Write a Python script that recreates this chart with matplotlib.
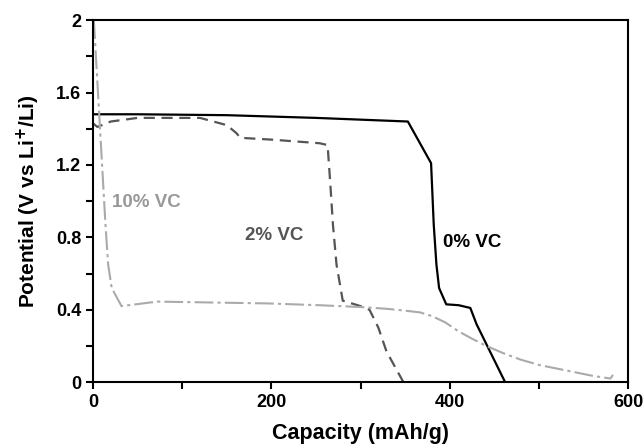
import matplotlib
matplotlib.use("Agg")
import matplotlib.pyplot as plt
from matplotlib.ticker import MultipleLocator

plt.rcParams["font.family"] = ["Liberation Sans", "DejaVu Sans"]
plt.rcParams["font.weight"] = "bold"

# 0% VC
cap_0 = [0, 50, 150, 250, 353, 379, 382, 385, 388, 396, 410, 423, 430, 445, 462]
pot_0 = [1.48, 1.48, 1.475, 1.46, 1.44, 1.21, 0.87, 0.65, 0.52, 0.43, 0.425, 0.41, 0.32, 0.17, 0.0]

# 2% VC
cap_2 = [0, 5, 20, 50, 120, 150, 161, 165, 200, 254, 263, 266, 269, 273, 280, 300, 310, 320, 329, 348]
pot_2 = [1.43, 1.41, 1.44, 1.46, 1.46, 1.42, 1.375, 1.35, 1.34, 1.32, 1.31, 1.1, 0.87, 0.65, 0.45, 0.42, 0.4, 0.3, 0.17, 0.0]

# 10% VC
cap_10 = [1, 14, 17, 21, 32, 72, 195, 254, 300, 330, 350, 367, 380, 395, 410, 425, 441,
          460, 479, 500, 535, 560, 580, 583]
pot_10 = [2.0, 0.87, 0.65, 0.52, 0.42, 0.445, 0.435, 0.425, 0.415, 0.405, 0.395, 0.385, 0.365,
          0.33, 0.28, 0.24, 0.20, 0.16, 0.125, 0.095, 0.06, 0.035, 0.02, 0.04]

fig = plt.figure(figsize=(6.43, 4.48), dpi=100)
ax = fig.add_axes([0.1446, 0.147, 0.8324, 0.808])

ax.plot(cap_0, pot_0, color="black", lw=1.6)
ax.plot(cap_2, pot_2, color="#555555", lw=1.6, ls=(0, (5, 3)))
ax.plot(cap_10, pot_10, color="#aaaaaa", lw=1.5, ls=(0, (9, 2, 1.5, 2)))

ax.text(21, 0.97, "10% VC", color="#999999", fontsize=13.5, fontweight="bold")
ax.text(170, 0.785, "2% VC", color="#555555", fontsize=13.5, fontweight="bold")
ax.text(392, 0.745, "0% VC", color="black", fontsize=13.5, fontweight="bold")

ax.set_xlim(0, 600)
ax.set_ylim(0, 2)
ax.xaxis.set_major_locator(MultipleLocator(200))
ax.xaxis.set_minor_locator(MultipleLocator(100))
ax.yaxis.set_major_locator(MultipleLocator(0.4))
ax.yaxis.set_minor_locator(MultipleLocator(0.2))
ax.yaxis.set_major_formatter(plt.FuncFormatter(lambda v, p: f"{v:g}"))
ax.tick_params(which="both", direction="out", length=5, width=1.5, labelsize=13)
for s in ax.spines.values():
    s.set_linewidth(1.5)

ax.set_xlabel("Capacity (mAh/g)", fontsize=15.5, fontweight="bold", labelpad=9)
ax.set_ylabel("Potential (V vs Li$^{\\mathbf{+}}$/Li)", fontsize=15, fontweight="bold", labelpad=10)

fig.savefig("out.png", dpi=100)
